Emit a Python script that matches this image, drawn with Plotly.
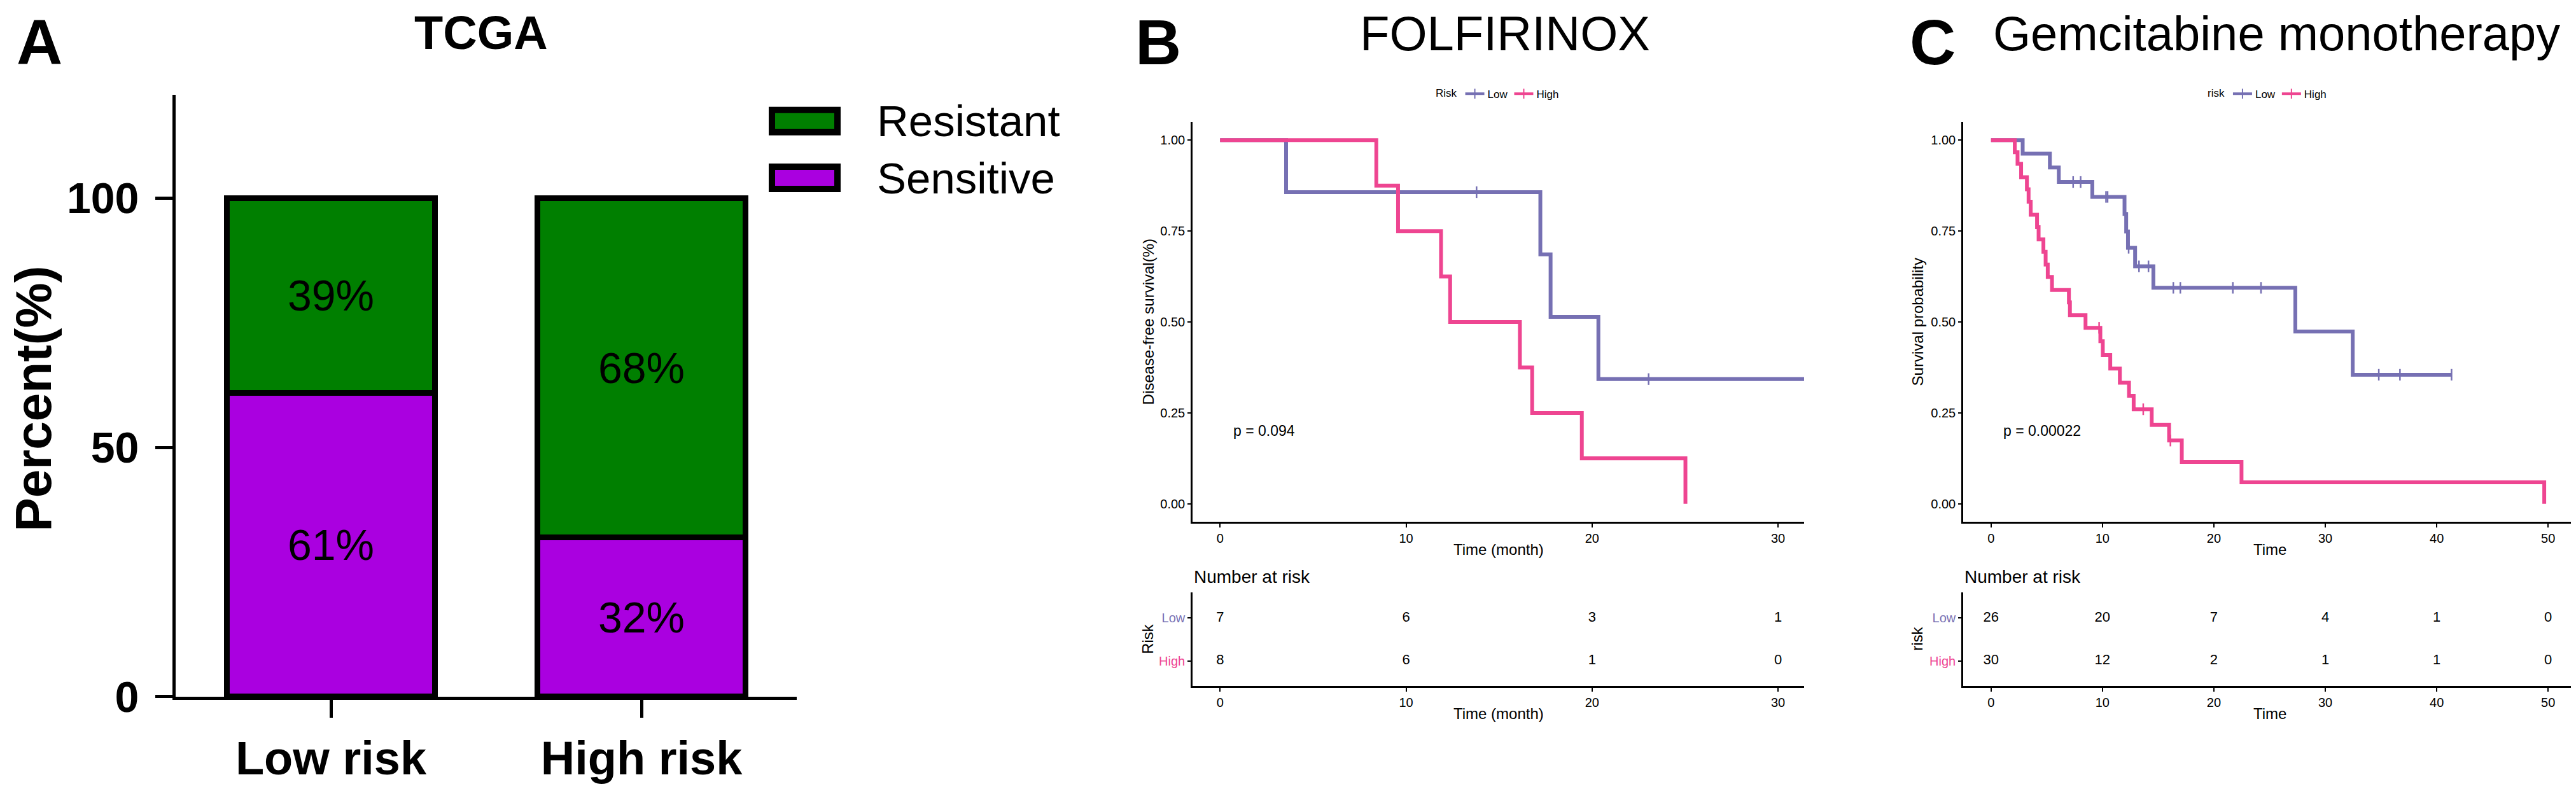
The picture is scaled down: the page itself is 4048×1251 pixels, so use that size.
import plotly.graph_objects as go

W, H = 4048, 1251
FONT = "Liberation Sans, Arial, sans-serif"

# ---- panel A: TCGA response by risk group (percent)
risk_groups = ["Low risk", "High risk"]
sensitive_pct = [61, 32]
resistant_pct = [39, 68]
a_yticks = [0, 50, 100]

# ---- panel B: FOLFIRINOX, Kaplan-Meier steps
b_low_t = [0, 3.55, 17.22, 17.77, 20.34, 31.4]
b_low_s = [1.0, 0.857, 0.686, 0.514, 0.343, 0.343]
b_low_cens = [13.79, 23.04]
b_high_t = [0, 8.40, 9.57, 11.88, 12.37, 16.12, 16.78, 19.45, 25.02]
b_high_s = [1.0, 0.875, 0.75, 0.625, 0.5, 0.375, 0.25, 0.125, 0.0]
b_high_cens = []
b_table_t = [0, 10, 20, 30]
b_table_low = [7, 6, 3, 1]
b_table_high = [8, 6, 1, 0]
b_pval = "p = 0.094"

# ---- panel C: gemcitabine monotherapy
c_low_t = [0, 2.84, 5.28, 6.08, 9.09, 11.98, 12.13, 12.29, 12.93, 14.57, 27.31, 32.46, 41.33]
c_low_s = [1.0, 0.963, 0.925, 0.885, 0.844, 0.797, 0.749, 0.704, 0.653, 0.594, 0.474, 0.355, 0.355]
c_low_cens = [7.37, 8.04, 10.32, 10.46, 12.35, 13.28, 14.13, 16.36, 16.99, 21.7, 24.23, 34.8, 36.7, 41.33]
c_high_t = [0, 2.13, 2.38, 2.70, 3.22, 3.37, 3.56, 4.13, 4.27, 4.70, 4.90, 5.09, 5.47, 6.99, 7.08,
            8.48, 9.81, 10.03, 10.70, 11.56, 12.38, 12.80, 14.42, 15.98, 17.12, 22.48, 49.65]
c_high_s = [1.0, 0.967, 0.935, 0.898, 0.865, 0.831, 0.795, 0.761, 0.727, 0.693, 0.658, 0.624, 0.588, 0.554, 0.519,
            0.484, 0.447, 0.409, 0.372, 0.333, 0.297, 0.260, 0.217, 0.174, 0.115, 0.059, 0.0]
c_high_cens = [9.70, 13.66, 16.10]
c_table_t = [0, 10, 20, 30, 40, 50]
c_table_low = [26, 20, 7, 4, 1, 0]
c_table_high = [30, 12, 2, 1, 1, 0]
c_pval = "p = 0.00022"

GREEN = "#007f00"
PURPLE = "#aa00e0"
LOW_COL = "#7670b3"
HIGH_COL = "#ee4591"


def fx(px):
    return px / W


def fy(px):
    return 1 - px / H


def surv_at(ts, ss, t):
    # value of the step curve at time t
    val = ss[0]
    for ti, si in zip(ts, ss):
        if ti <= t:
            val = si
    return val


fig = go.Figure()

# ---------------- panel A
fig.add_trace(go.Bar(
    x=risk_groups, y=sensitive_pct, name="Sensitive",
    marker=dict(color=PURPLE, line=dict(color="black", width=9)),
    width=0.67, text=[f"{v}%" for v in sensitive_pct],
    textposition="inside", insidetextanchor="middle",
    textfont=dict(family=FONT, size=68, color="black"),
    showlegend=False, xaxis="x", yaxis="y"))
fig.add_trace(go.Bar(
    x=risk_groups, y=resistant_pct, name="Resistant",
    marker=dict(color=GREEN, line=dict(color="black", width=9)),
    width=0.67, text=[f"{v}%" for v in resistant_pct],
    textposition="inside", insidetextanchor="middle",
    textfont=dict(family=FONT, size=68, color="black"),
    showlegend=False, xaxis="x", yaxis="y"))


# ---------------- KM panels
def add_km(ts, ss, cens, color, name, xa, ya, legend):
    fig.add_trace(go.Scatter(
        x=ts, y=ss, mode="lines", line=dict(color=color, width=6, shape="hv"),
        showlegend=False, xaxis=xa, yaxis=ya))
    if cens:
        fig.add_trace(go.Scatter(
            x=cens, y=[surv_at(ts, ss, t) for t in cens], mode="markers",
            marker=dict(symbol="line-ns", size=13, color=color,
                        line=dict(color=color, width=2.5)),
            showlegend=False, xaxis=xa, yaxis=ya))
    # legend key: line with a censor cross
    fig.add_trace(go.Scatter(
        x=[None], y=[None], mode="lines+markers", name=name,
        line=dict(color=color, width=4),
        marker=dict(symbol="line-ns", size=11, color=color, line=dict(color=color, width=2)),
        legend=legend, xaxis=xa, yaxis=ya))


def add_table(times, low, high, xa, ya):
    fig.add_trace(go.Scatter(x=times, y=[2] * len(times), mode="text", text=[str(v) for v in low],
                             textfont=dict(family=FONT, size=22, color="black"),
                             showlegend=False, xaxis=xa, yaxis=ya))
    fig.add_trace(go.Scatter(x=times, y=[1] * len(times), mode="text", text=[str(v) for v in high],
                             textfont=dict(family=FONT, size=22, color="black"),
                             showlegend=False, xaxis=xa, yaxis=ya))


add_km(b_low_t, b_low_s, b_low_cens, LOW_COL, "Low", "x2", "y2", "legend2")
add_km(b_high_t, b_high_s, b_high_cens, HIGH_COL, "High", "x2", "y2", "legend2")
add_table(b_table_t, b_table_low, b_table_high, "x3", "y3")

add_km(c_low_t, c_low_s, c_low_cens, LOW_COL, "Low", "x4", "y4", "legend3")
add_km(c_high_t, c_high_s, c_high_cens, HIGH_COL, "High", "x4", "y4", "legend3")
add_table(c_table_t, c_table_low, c_table_high, "x5", "y5")

# ---------------- axes
bold_tick = dict(family=FONT, size=68, color="black", weight="bold")
layout_axes = dict(
    xaxis=dict(domain=[fx(268), fx(1244)], range=[-0.5, 1.5], type="category",
               showline=True, linecolor="black", linewidth=5, ticks="outside",
               ticklen=28, tickwidth=5, tickcolor="black", showgrid=False,
               tickfont=dict(family=FONT, size=74, color="black", weight="bold"),
               anchor="y"),
    yaxis=dict(domain=[fy(1121), fy(145)], range=[0, 120.8], tickvals=a_yticks,
               showline=True, linecolor="black", linewidth=5, ticks="outside",
               ticklen=27, tickwidth=5, tickcolor="black", showgrid=False, zeroline=False,
               tickfont=bold_tick, ticklabelstandoff=12, anchor="x"),
)

small_tick = dict(family=FONT, size=20, color="black")


def km_xaxis(dom, rng, tickvals, anchor):
    return dict(domain=dom, range=rng, tickvals=tickvals, showline=True, linecolor="black",
                linewidth=3, ticks="outside", ticklen=6, tickwidth=2, tickcolor="black",
                showgrid=False, zeroline=False, tickfont=small_tick, anchor=anchor)


b_dom = [fx(1866), fx(2827)]
c_dom = [fx(3077), fx(4040)]
km_ydom = [fy(837.8), fy(189.5)]
tab_ydom = [fy(1103.4), fy(952.3)]

layout_axes["xaxis2"] = km_xaxis(b_dom, [-1.48, 31.4], b_table_t, "y2")
layout_axes["xaxis3"] = km_xaxis(b_dom, [-1.48, 31.4], b_table_t, "y3")
layout_axes["xaxis4"] = km_xaxis(c_dom, [-2.5, 52.5], c_table_t, "y4")
layout_axes["xaxis5"] = km_xaxis(c_dom, [-2.5, 52.5], c_table_t, "y5")

for key, anchor in (("yaxis2", "x2"), ("yaxis4", "x4")):
    layout_axes[key] = dict(domain=km_ydom, range=[-0.05, 1.05], tickvals=[0, 0.25, 0.5, 0.75, 1.0],
                            tickformat=".2f", showline=True, linecolor="black", linewidth=2.5,
                            ticks="outside", ticklen=5, tickwidth=2, tickcolor="black",
                            showgrid=False, zeroline=False, tickfont=small_tick, anchor=anchor)
risk_ticktext = [f'<span style="color:{HIGH_COL}">High</span>', f'<span style="color:{LOW_COL}">Low</span>']
for key, anchor in (("yaxis3", "x3"), ("yaxis5", "x5")):
    layout_axes[key] = dict(domain=tab_ydom, range=[0.42, 2.59], tickvals=[1, 2], ticktext=risk_ticktext,
                            showline=True, linecolor="black", linewidth=2.5,
                            ticks="outside", ticklen=5, tickwidth=2, tickcolor="black",
                            showgrid=False, zeroline=False, tickfont=small_tick, anchor=anchor)

# ---------------- text
ann = []


def text(s, x, y, size, bold=False, xanchor="center", angle=0, ref=("paper", "paper"), yanchor="middle"):
    f = dict(family=FONT, size=size, color="black")
    if bold:
        f["weight"] = "bold"
    ann.append(dict(text=s, x=x, y=y, xref=ref[0], yref=ref[1], xanchor=xanchor, yanchor=yanchor,
                    showarrow=False, font=f, textangle=angle))


# titles and panel letters hang from the top edge
text("A", fx(54), 1, 100, bold=True, yanchor="top")
text("TCGA", fx(748), 1, 74, bold=True, yanchor="top")
text("B", fx(1812), 1, 100, bold=True, yanchor="top")
text("FOLFIRINOX", fx(2357), 1, 76, yanchor="top")
text("C", fx(3029), 1, 100, bold=True, yanchor="top")
text("Gemcitabine monotherapy", fx(3569), 1, 76, yanchor="top")

text("Percent(%)", fx(45), fy(638), 80, bold=True, angle=-90)
text("Resistant", fx(1368), fy(188), 69, xanchor="left")
text("Sensitive", fx(1368), fy(281), 69, xanchor="left")

for dom, ytitle, xtitle, rtitle, xpx, pval, tmax, xa in (
        (b_dom, "Disease-free survival(%)", "Time (month)", "Risk", 1796, b_pval, b_low_t[-1], "x2"),
        (c_dom, "Survival probability", "Time", "risk", 3005, c_pval, c_high_t[-1], "x4")):
    mid = (dom[0] + dom[1]) / 2
    text(ytitle, fx(xpx), fy(514), 24, angle=-90)
    text(xtitle, mid, fy(882), 24)
    text(xtitle, mid, fy(1148), 24)
    text("Number at risk", dom[0], fy(927), 28, xanchor="left")
    text(rtitle, fx(xpx), fy(1027), 24, angle=-90)
    text(pval, tmax / 50, 0.2, 23, xanchor="left", ref=(xa, "y" + xa[1:]))

# legend boxes for panel A
shapes = []
for color, top in ((GREEN, 170), (PURPLE, 262)):
    shapes.append(dict(type="rect", xref="paper", yref="paper", x0=fx(1205), x1=fx(1308),
                       y0=fy(top + 36), y1=fy(top), fillcolor=color,
                       line=dict(color="black", width=10)))

legend_style = dict(orientation="h", xanchor="left", yanchor="middle", y=fy(144),
                    font=dict(family=FONT, size=17, color="black"), bgcolor="rgba(0,0,0,0)",
                    itemwidth=30)

fig.update_layout(
    width=W, height=H, margin=dict(l=0, r=0, t=0, b=0),
    paper_bgcolor="white", plot_bgcolor="white",
    barmode="stack", annotations=ann, shapes=shapes,
    legend2=dict(x=fx(2246), title=dict(text="Risk", side="left", font=dict(family=FONT, size=17)),
                 **legend_style),
    legend3=dict(x=fx(3459), title=dict(text="risk", side="left", font=dict(family=FONT, size=17)),
                 **legend_style),
    **layout_axes)

fig.write_html("out.html")
